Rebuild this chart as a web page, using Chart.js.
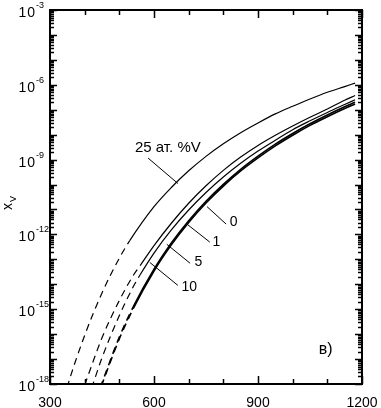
<!DOCTYPE html>
<html>
<head>
<meta charset="utf-8">
<script src="https://cdn.jsdelivr.net/npm/chart.js@4/dist/chart.umd.min.js"></script>
<style>
  html, body { margin: 0; padding: 0; background: #fff; }
  #wrap { width: 381px; height: 408px; }
</style>
</head>
<body>
<div id="wrap"><canvas id="chart"></canvas></div>
<script>
// temperatures and x_V (25, 10, 5, 1, 0 at.% V)
const temps25 = [340, 350, 400, 450, 500, 530, 600, 650, 700, 750, 800, 850, 900, 950, 1000, 1050, 1100, 1150, 1180];
const xv25 = [2.45e-19, 7.9e-19, 8.9e-17, 4.5e-15, 1.12e-13, 5.6e-13, 1.29e-11, 7.6e-11, 3.55e-10, 1.35e-9, 4.3e-9, 1.2e-8, 2.95e-8, 6.8e-8, 1.38e-7, 2.7e-7, 5.0e-7, 8.5e-7, 1.17e-6];

const temps10 = [400, 450, 500, 540, 560, 600, 650, 700, 750, 800, 850, 900, 950, 1000, 1050, 1100, 1150, 1180];
const xv10 = [9.1e-19, 7.1e-17, 2.24e-15, 2.24e-14, 5.6e-14, 3.55e-13, 2.8e-12, 1.78e-11, 8.9e-11, 3.7e-10, 1.26e-9, 3.7e-9, 9.5e-9, 2.24e-8, 5.0e-8, 1.07e-7, 2.4e-7, 3.7e-7];

const temps5 = [420, 450, 500, 540, 560, 600, 650, 700, 750, 800, 850, 900, 950, 1000, 1050, 1100, 1150, 1180];
const xv5 = [6.8e-19, 1.12e-17, 5.6e-16, 7.9e-15, 2.4e-14, 1.78e-13, 1.51e-12, 9.5e-12, 4.8e-11, 2.0e-10, 7.1e-10, 2.2e-9, 6.0e-9, 1.58e-8, 3.6e-8, 7.8e-8, 1.62e-7, 2.5e-7];

const temps1 = [445, 500, 540, 600, 650, 700, 750, 800, 850, 900, 950, 1000, 1050, 1100, 1150, 1180];
const xv1 = [7.1e-19, 7.6e-17, 1.23e-15, 4.0e-14, 4.5e-13, 3.55e-12, 2.14e-11, 1.02e-10, 4.1e-10, 1.38e-9, 4.2e-9, 1.12e-8, 2.75e-8, 6.2e-8, 1.32e-7, 2.0e-7];

const temps0 = [448, 500, 540, 600, 650, 700, 750, 800, 850, 900, 950, 1000, 1050, 1100, 1150, 1180];
const xv0 = [8.3e-19, 6.5e-17, 1.05e-15, 3.4e-14, 3.8e-13, 3.0e-12, 1.82e-11, 8.7e-11, 3.5e-10, 1.17e-9, 3.55e-9, 9.5e-9, 2.35e-8, 5.25e-8, 1.12e-7, 1.7e-7];

// below these temperatures the curves are drawn dashed
const dashBelow = [530, 560, 560, 540, 540];

const xTickLabels = [300, 600, 900, 1200];
const yTickExps = [-3, -6, -9, -12, -15, -18];

const FONT = "'Liberation Sans', Arial, sans-serif";

function toPoints(ts, vs) {
  return ts.map((t, i) => ({ x: t, y: vs[i] }));
}

function curve(ts, vs, dashLimit, width) {
  return {
    data: toPoints(ts, vs),
    borderColor: "#000",
    borderWidth: width,
    pointRadius: 0,
    cubicInterpolationMode: "monotone",
    segment: {
      borderDash: ctx => ctx.p1.parsed.x <= dashLimit ? [7, 5] : undefined
    }
  };
}

// frame, ticks, labels and curve captions
const decorPlugin = {
  id: "decor",
  afterDraw(chart) {
    const c = chart.ctx;
    const xs = chart.scales.x;
    const ys = chart.scales.y;
    const a = chart.chartArea;

    c.save();
    c.strokeStyle = "#000";
    c.fillStyle = "#000";

    // ticks on all four sides, pointing inward
    c.lineWidth = 1.5;
    c.beginPath();
    for (let t = 300; t <= 1200; t += 100) {
      const px = Math.round(xs.getPixelForValue(t)) + 0.5;
      const len = xTickLabels.includes(t) ? 8 : 5;
      c.moveTo(px, a.bottom); c.lineTo(px, a.bottom - len);
      c.moveTo(px, a.top); c.lineTo(px, a.top + len);
    }
    for (let e = -18; e <= -3; e++) {
      const py = Math.round(ys.getPixelForValue(Math.pow(10, e))) + 0.5;
      c.moveTo(a.left, py); c.lineTo(a.left + 7, py);
      c.moveTo(a.right, py); c.lineTo(a.right - 7, py);
      if (e < -3) {
        for (let m = 2; m <= 9; m++) {
          const pm = Math.round(ys.getPixelForValue(m * Math.pow(10, e))) + 0.5;
          c.moveTo(a.left, pm); c.lineTo(a.left + 4, pm);
          c.moveTo(a.right, pm); c.lineTo(a.right - 4, pm);
        }
      }
    }
    c.stroke();

    // frame
    c.lineWidth = 2;
    c.strokeRect(a.left, a.top, a.right - a.left, a.bottom - a.top);

    // x tick labels
    c.font = "14px " + FONT;
    c.textAlign = "center";
    c.textBaseline = "alphabetic";
    xTickLabels.forEach(t => {
      c.fillText(String(t), xs.getPixelForValue(t), a.bottom + 23);
    });

    // y tick labels 10^n
    yTickExps.forEach(e => {
      const py = ys.getPixelForValue(Math.pow(10, e));
      c.font = "14px " + FONT;
      c.textAlign = "right";
      c.letterSpacing = "1px";
      c.fillText("10", a.left - 14, py + 7);
      c.letterSpacing = "0px";
      c.font = "9px " + FONT;
      c.textAlign = "left";
      c.fillText("-" + Math.abs(e), a.left - 14, py - 2);
    });

    // y axis title x_V
    c.save();
    c.translate(12, 210);
    c.rotate(-Math.PI / 2);
    c.textAlign = "left";
    c.font = "14px " + FONT;
    c.fillText("x", 0, 0);
    c.font = "9px " + FONT;
    c.fillText("V", 8, 4);
    c.restore();

    // curve captions with leader lines (anchored in data units)
    const captions = [
      { text: "25 ат. %V", size: 15, tx: 640, ty: 3.0e-9, from: [583, 1.15e-9], to: [669, 1.1e-10] },
      { text: "0", size: 14, tx: 830, ty: 3.0e-12, from: [753, 1.3e-11], to: [808, 2.6e-12] },
      { text: "1", size: 14, tx: 780, ty: 5.0e-13, from: [698, 2.4e-12], to: [761, 4.9e-13] },
      { text: "5", size: 14, tx: 728, ty: 8.0e-14, from: [637, 4.0e-13], to: [704, 7.0e-14] },
      { text: "10", size: 14, tx: 702, ty: 8.0e-15, from: [588, 7.5e-14], to: [669, 9.0e-15] }
    ];
    c.lineWidth = 1;
    c.textAlign = "center";
    c.textBaseline = "middle";
    captions.forEach(cp => {
      c.beginPath();
      c.moveTo(xs.getPixelForValue(cp.from[0]), ys.getPixelForValue(cp.from[1]));
      c.lineTo(xs.getPixelForValue(cp.to[0]), ys.getPixelForValue(cp.to[1]));
      c.stroke();
      c.font = cp.size + "px " + FONT;
      c.fillText(cp.text, xs.getPixelForValue(cp.tx), ys.getPixelForValue(cp.ty));
    });

    // panel letter
    c.font = "16px " + FONT;
    c.fillText("в)", xs.getPixelForValue(1095), ys.getPixelForValue(2.5e-17));
    c.restore();
  }
};

new Chart(document.getElementById("chart"), {
  type: "line",
  data: {
    datasets: [
      curve(temps25, xv25, dashBelow[0], 1.2),
      curve(temps10, xv10, dashBelow[1], 1.2),
      curve(temps5, xv5, dashBelow[2], 1.2),
      curve(temps1, xv1, dashBelow[3], 1.6),
      curve(temps0, xv0, dashBelow[4], 1.6)
    ]
  },
  options: {
    responsive: true,
    maintainAspectRatio: false,
    animation: false,
    layout: { padding: { left: 50, right: 19, top: 10, bottom: 24 } },
    plugins: {
      legend: { display: false },
      tooltip: { enabled: false }
    },
    scales: {
      x: {
        type: "linear",
        min: 300,
        max: 1200,
        display: false
      },
      y: {
        type: "logarithmic",
        min: 1e-18,
        max: 1e-3,
        display: false
      }
    }
  },
  plugins: [decorPlugin]
});
</script>
</body>
</html>
